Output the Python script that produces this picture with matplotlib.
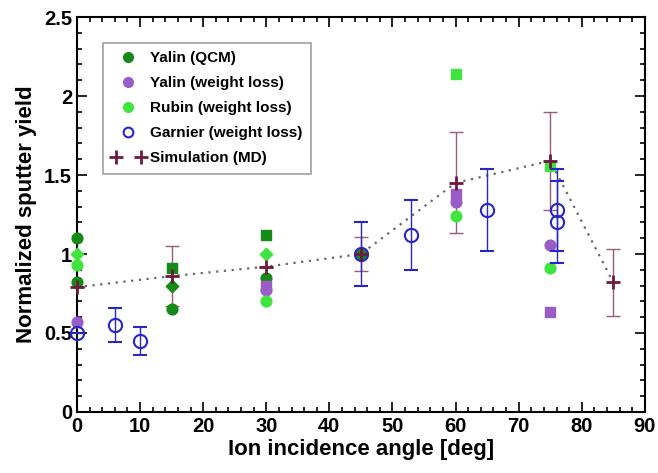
import matplotlib
matplotlib.use("Agg")
import matplotlib.pyplot as plt
from matplotlib.lines import Line2D
from matplotlib.legend_handler import HandlerLine2D
from matplotlib.ticker import MultipleLocator

plt.rcParams['font.family'] = ['Liberation Sans', 'DejaVu Sans']
plt.rcParams['font.weight'] = 'bold'

# ---------------------------------------------------------------- data
# Yalin (QCM)
qcm_angle = [0, 0, 15, 15, 15, 30, 30, 45]
qcm_yield = [1.10, 0.82, 0.91, 0.80, 0.65, 1.12, 0.85, 1.00]
qcm_marker = ['o', 'o', 's', 'D', 'o', 's', 'o', 'o']

# Yalin (weight loss)
ywl_angle = [0, 30, 30, 60, 60, 75, 75]
ywl_yield = [0.57, 0.80, 0.77, 1.38, 1.33, 1.06, 0.63]
ywl_marker = ['o', 's', 'o', 's', 'o', 'o', 's']

# Rubin (weight loss)
rub_angle = [0, 0, 30, 30, 60, 60, 75, 75]
rub_yield = [1.00, 0.93, 1.00, 0.70, 2.14, 1.24, 1.56, 0.91]
rub_marker = ['D', 'o', 'D', 'o', 's', 'o', 's', 'o']

# Garnier (weight loss)
gar_angle = [0, 6, 10, 45, 53, 65, 76, 76]
gar_yield = [0.50, 0.55, 0.45, 1.00, 1.12, 1.28, 1.28, 1.20]
gar_err = [0.0, 0.11, 0.09, 0.20, 0.22, 0.26, 0.26, 0.26]

# Simulation (MD)
sim_angle = [0, 15, 30, 45, 60, 75, 85]
sim_yield = [0.79, 0.86, 0.92, 1.00, 1.45, 1.59, 0.82]
sim_err = [0.0, 0.19, 0.0, 0.11, 0.32, 0.31, 0.21]

# ---------------------------------------------------------------- colours
C_QCM = '#168a16'
C_YWL = '#9a5cc8'
C_RUB = '#3fe43f'
C_GAR = '#2626cc'
C_SIM = '#6e1a3e'
C_SIM_ERR = '#9a5a78'

fig = plt.figure(figsize=(6.58, 4.73), dpi=100)
ax = fig.add_axes([0.117, 0.129, 0.863, 0.835])


def scatter_group(xs, ys, marks, color):
    for x, y, m in zip(xs, ys, marks):
        size = 60 if m == 'o' else (50 if m == 's' else 40)
        ax.scatter([x], [y], marker=m, s=size, color=color, edgecolors=color,
                   zorder=4, clip_on=False)


# simulation dotted trend + error bars
ax.plot(sim_angle, sim_yield, linestyle=(0, (1, 2.5)), color='#666666', lw=1.6, zorder=2)
ax.errorbar(sim_angle, sim_yield, yerr=sim_err, fmt='none', ecolor=C_SIM_ERR,
            elinewidth=1.0, capsize=5, capthick=1.0, zorder=3)

scatter_group(qcm_angle, qcm_yield, qcm_marker, C_QCM)
scatter_group(ywl_angle, ywl_yield, ywl_marker, C_YWL)
scatter_group(rub_angle, rub_yield, rub_marker, C_RUB)

ax.errorbar(gar_angle, gar_yield, yerr=gar_err, fmt='o', ms=9.5, mfc='none',
            mec=C_GAR, mew=1.5, ecolor=C_GAR, elinewidth=1.0, capsize=5,
            capthick=1.0, zorder=5, clip_on=False)

ax.plot(sim_angle, sim_yield, linestyle='none', marker='+', ms=10, mew=2,
        color=C_SIM, zorder=6, clip_on=False)

# ---------------------------------------------------------------- axes
ax.set_xlim(0, 90)
ax.set_ylim(0, 2.5)
ax.xaxis.set_major_locator(MultipleLocator(10))
ax.xaxis.set_minor_locator(MultipleLocator(2))
ax.yaxis.set_major_locator(MultipleLocator(0.5))
ax.yaxis.set_minor_locator(MultipleLocator(0.1))
ax.tick_params(which='both', direction='in', top=True, right=True, labelsize=14.5, width=1.2)
ax.tick_params(which='major', length=7)
ax.tick_params(which='minor', length=3.5)
ax.set_yticks([0, 0.5, 1, 1.5, 2, 2.5])
ax.set_yticklabels(['0', '0.5', '1', '1.5', '2', '2.5'])
for s in ax.spines.values():
    s.set_linewidth(1.5)

ax.set_xlabel('Ion incidence angle [deg]', fontsize=16, fontweight='bold', labelpad=2)
ax.set_ylabel('Normalized sputter yield', fontsize=16, fontweight='bold', labelpad=5)

# ---------------------------------------------------------------- legend
sim_handle = Line2D([], [], ls='none', marker='+', ms=10, mew=2, color=C_SIM)
handles = [
    Line2D([], [], ls='none', marker='o', ms=7, color=C_QCM),
    Line2D([], [], ls='none', marker='o', ms=7, color=C_YWL),
    Line2D([], [], ls='none', marker='o', ms=7, color=C_RUB),
    Line2D([], [], ls='none', marker='o', ms=7, mfc='none', mec=C_GAR, mew=1.5),
    sim_handle,
]
labels = ['Yalin (QCM)', 'Yalin (weight loss)', 'Rubin (weight loss)',
          'Garnier (weight loss)', 'Simulation (MD)']
leg = ax.legend(handles, labels, loc='upper left', bbox_to_anchor=(0.046, 0.934),
                fontsize=11, numpoints=1, frameon=True, fancybox=False,
                edgecolor='#888888', handlelength=2.2, handletextpad=0.35,
                labelspacing=0.72, borderpad=0.55, borderaxespad=0,
                handler_map={sim_handle: HandlerLine2D(numpoints=2)})
leg.get_frame().set_linewidth(1.2)
for t in leg.get_texts():
    t.set_fontweight('bold')

fig.savefig('out.png', dpi=100)
